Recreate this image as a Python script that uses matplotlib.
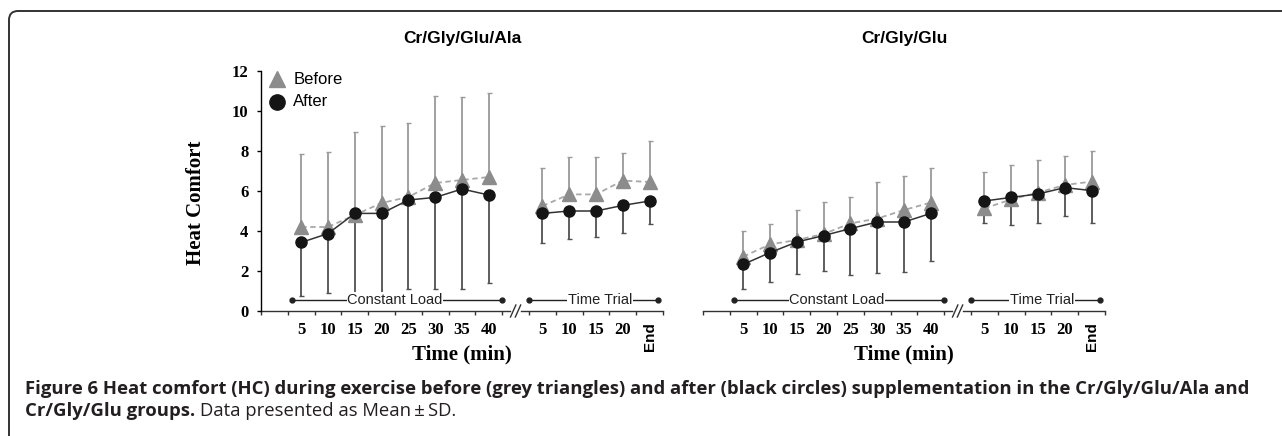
import numpy as np
import matplotlib.pyplot as plt
from matplotlib.patches import FancyBboxPatch
from matplotlib.transforms import IdentityTransform

# categories
cl_labels = ['5', '10', '15', '20', '25', '30', '35', '40']
tt_labels = ['5', '10', '15', '20', 'End']
y_ticks = [0, 2, 4, 6, 8, 10, 12]

# Cr/Gly/Glu/Ala  (mean, and the end of the SD bar)
ala_cl_before = [4.2, 4.2, 4.8, 5.4, 5.7, 6.4, 6.55, 6.7]
ala_cl_before_top = [7.85, 7.95, 8.95, 9.25, 9.4, 10.75, 10.7, 10.9]
ala_cl_after = [3.43, 3.87, 4.88, 4.88, 5.55, 5.68, 6.1, 5.8]
ala_cl_after_bot = [0.75, 0.88, 0.7, 0.8, 1.08, 1.1, 1.08, 1.38]
ala_tt_before = [5.25, 5.83, 5.83, 6.52, 6.45]
ala_tt_before_top = [7.13, 7.68, 7.68, 7.88, 8.5]
ala_tt_after = [4.88, 5.0, 5.0, 5.28, 5.5]
ala_tt_after_bot = [3.42, 3.58, 3.7, 3.92, 4.33]

# Cr/Gly/Glu
glu_cl_before = [2.72, 3.33, 3.55, 3.85, 4.38, 4.62, 5.05, 5.42]
glu_cl_before_top = [4.02, 4.37, 5.07, 5.45, 5.7, 6.45, 6.73, 7.13]
glu_cl_after = [2.33, 2.92, 3.45, 3.77, 4.12, 4.45, 4.45, 4.88]
glu_cl_after_bot = [1.12, 1.45, 1.87, 1.98, 1.8, 1.88, 1.95, 2.52]
glu_tt_before = [5.13, 5.58, 5.92, 6.3, 6.47]
glu_tt_before_top = [6.93, 7.32, 7.53, 7.73, 7.98]
glu_tt_after = [5.5, 5.68, 5.85, 6.17, 6.02]
glu_tt_after_bot = [4.42, 4.3, 4.38, 4.73, 4.42]

W, H = 1282, 436
fig = plt.figure(figsize=(W / 100, H / 100), dpi=100)
ax_l = fig.add_axes([261 / W, 125 / H, 402 / W, 240 / H])
ax_r = fig.add_axes([703 / W, 125 / H, 402 / W, 240 / H])

cl_x = np.arange(len(cl_labels)) + 1.5
tt_x = np.arange(len(tt_labels)) + 10.5

serif = 'Liberation Serif'
sans = 'Liberation Sans'


def draw_panel(ax, title, groups, show_y):
    for x, b, btop, a, abot in groups:
        b, btop, a, abot = map(np.array, (b, btop, a, abot))
        ax.errorbar(x, b, yerr=[np.zeros_like(b), btop - b], fmt='none',
                    ecolor='#9a9a9a', elinewidth=1.3, capsize=1.8, capthick=1, zorder=2)
        ax.errorbar(x, a, yerr=[a - abot, np.zeros_like(a)], fmt='none',
                    ecolor='#505050', elinewidth=1.3, capsize=1.8, capthick=1, zorder=2)
        ax.plot(x, b, color='#a8a8a8', ls=(0, (3, 2)), lw=1.3, marker='^', ms=10,
                mfc='#8c8c8c', mec='#8c8c8c', zorder=3)
        ax.plot(x, a, color='#333333', lw=1.1, marker='o', ms=8,
                mfc='#151515', mec='#151515', zorder=4)

    ax.set_xlim(0, 15)
    ax.set_ylim(0, 12)
    for s in ['top', 'right', 'bottom']:
        ax.spines[s].set_visible(False)
    ax.spines['left'].set_visible(show_y)
    ax.spines['left'].set_linewidth(1)

    # x axis with a break between the two phases
    ax.plot([0, 9.3], [0, 0], color='#333333', lw=1, clip_on=False, zorder=1)
    ax.plot([9.7, 15], [0, 0], color='#333333', lw=1, clip_on=False, zorder=1)
    for dx in (-0.09, 0.09):
        ax.plot([9.5 + dx - 0.1, 9.5 + dx + 0.1], [-0.3, 0.3], color='#333333',
                lw=1, clip_on=False)

    ax.set_xticks(np.arange(0, 16))
    ax.set_xticklabels([])
    ax.set_xticks(np.concatenate([cl_x, tt_x]), minor=True)
    ax.set_xticklabels(cl_labels + tt_labels, minor=True)
    ax.tick_params(axis='x', which='major', direction='out', length=3, width=1, color='#333333')
    ax.tick_params(axis='x', which='minor', length=0, pad=8)
    for lab in ax.get_xticklabels(minor=True):
        lab.set_fontfamily(serif)
        lab.set_fontweight('bold')
        lab.set_fontsize(12)
    end = ax.get_xticklabels(minor=True)[-1]
    end.set_rotation(90)
    end.set_fontfamily(sans)
    end.set_fontsize(11)

    if show_y:
        ax.set_yticks(y_ticks)
        ax.set_yticklabels([str(v) for v in y_ticks], fontfamily=serif,
                           fontweight='bold', fontsize=12)
        ax.tick_params(axis='y', direction='out', length=3, width=1, pad=6)
        ax.set_ylabel('Heat Comfort', fontfamily=serif, fontweight='bold', fontsize=15)
        ax.yaxis.set_label_coords(-55 / 402, 0.45)
    else:
        ax.set_yticks([])

    ax.set_xlabel('Time (min)', fontfamily=serif, fontweight='bold', fontsize=15)
    ax.xaxis.set_label_coords(0.5, -0.183)
    ax.xaxis.label.set_va('center')

    ax.set_title(title, fontfamily=sans, fontweight='bold', fontsize=12.5,
                 y=1.1375, va='center', pad=0)

    # phase brackets
    for x0, x1, xt, txt in [(1.15, 9.0, 5.0, 'Constant Load'),
                            (10.0, 14.8, 12.65, 'Time Trial')]:
        ax.plot([x0, x1], [0.55, 0.55], color='#222222', lw=1, marker='o', ms=3.5,
                zorder=5, clip_on=False)
        ax.text(xt, 0.55, txt, ha='center', va='center', fontfamily=sans,
                fontsize=10.5, color='#222222', zorder=6,
                bbox=dict(facecolor='white', edgecolor='none', pad=0.5))


draw_panel(ax_l, 'Cr/Gly/Glu/Ala',
           [(cl_x, ala_cl_before, ala_cl_before_top, ala_cl_after, ala_cl_after_bot),
            (tt_x, ala_tt_before, ala_tt_before_top, ala_tt_after, ala_tt_after_bot)],
           True)
draw_panel(ax_r, 'Cr/Gly/Glu',
           [(cl_x, glu_cl_before, glu_cl_before_top, glu_cl_after, glu_cl_after_bot),
            (tt_x, glu_tt_before, glu_tt_before_top, glu_tt_after, glu_tt_after_bot)],
           False)

# legend
ax_l.plot([0.6], [11.6], marker='^', ms=12, mfc='#8c8c8c', mec='#8c8c8c', ls='none')
ax_l.plot([0.6], [10.45], marker='o', ms=11, mfc='#151515', mec='#151515', ls='none')
ax_l.text(1.2, 11.6, 'Before', fontfamily=sans, fontsize=12, va='center')
ax_l.text(1.2, 10.45, 'After', fontfamily=sans, fontsize=12, va='center')

# frame
fig.add_artist(FancyBboxPatch((9, -60), 1400, H - 11 + 60,
                              boxstyle='round,pad=0,rounding_size=9',
                              transform=IdentityTransform(), fill=False,
                              ec='#333333', lw=1.4))

# caption
cap_font = 'Open Sans'
cap_col = '#231f20'
cap_size = 13.3
fig.text(25 / W, (H - 389) / H,
         'Figure 6 Heat comfort (HC) during exercise before (grey triangles) and after '
         '(black circles) supplementation in the Cr/Gly/Glu/Ala and',
         fontfamily=cap_font, fontweight='bold', fontsize=cap_size, color=cap_col, va='center')
t2 = fig.text(25 / W, (H - 411) / H, 'Cr/Gly/Glu groups.',
              fontfamily=cap_font, fontweight='bold', fontsize=cap_size, color=cap_col,
              va='center')
r = fig.canvas.get_renderer()
bb = t2.get_window_extent(renderer=r)
fig.text((bb.x1 + 5) / W, (H - 411) / H, 'Data presented as Mean\u2009\u00b1\u2009SD.',
         fontfamily=cap_font, fontsize=cap_size, color=cap_col, va='center')

fig.savefig('out.png', dpi=100)
